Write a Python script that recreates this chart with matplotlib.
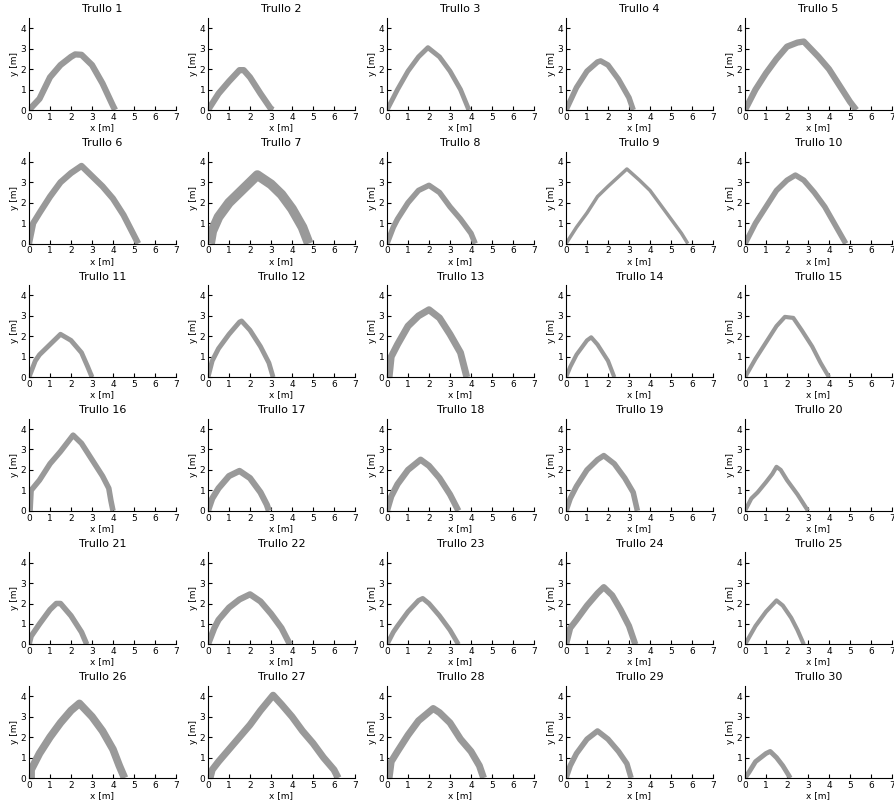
import numpy as np
import matplotlib
matplotlib.use('Agg')
import matplotlib.pyplot as plt

# profile points for every trullo (x, y in metres)
x1 = [0, 0.5, 1, 1.5, 2, 2.2, 2.5, 3, 3.5, 4, 4.1]
y1 = [0, 0.55, 1.6, 2.2, 2.6, 2.72, 2.7, 2.2, 1.3, 0.2, 0]
x2 = [0, 0.5, 1, 1.5, 1.7, 2, 2.5, 3, 3.1]
y2 = [0, 0.8, 1.4, 1.95, 1.95, 1.6, 0.8, 0.05, 0]
x3 = [0, 0.5, 1, 1.5, 1.95, 2.5, 3, 3.5, 3.9]
y3 = [0, 1.0, 1.9, 2.6, 3.05, 2.6, 1.9, 1.0, 0]
x4 = [0, 0.5, 1, 1.5, 1.65, 2, 2.5, 3, 3.2]
y4 = [0, 1.1, 1.9, 2.35, 2.4, 2.2, 1.5, 0.6, 0]
x5 = [0, 0.5, 1, 1.5, 2, 2.5, 2.8, 3.5, 4, 4.5, 5, 5.3]
y5 = [0, 1.0, 1.8, 2.5, 3.1, 3.3, 3.35, 2.6, 2.0, 1.2, 0.4, 0]
x6 = [0, 0.2, 0.5, 1, 1.5, 2, 2.5, 3, 3.5, 4, 4.5, 4.9, 5.2]
y6 = [0, 1.0, 1.5, 2.3, 3.0, 3.45, 3.8, 3.3, 2.8, 2.2, 1.4, 0.6, 0]
x7 = [0.1, 0.2, 0.5, 1, 1.5, 2, 2.35, 3, 3.5, 4, 4.5, 4.8]
y7 = [0, 0.6, 1.3, 2.0, 2.5, 3.0, 3.35, 2.9, 2.4, 1.7, 0.8, 0]
x8 = [0, 0.3, 0.5, 1, 1.5, 2, 2.5, 3, 3.5, 4, 4.2]
y8 = [0, 0.8, 1.2, 2.0, 2.6, 2.85, 2.5, 1.8, 1.2, 0.5, 0]
x9 = [0, 0.5, 1, 1.5, 2, 2.9, 3.5, 4, 4.5, 5, 5.5, 5.8]
y9 = [0, 0.8, 1.5, 2.3, 2.8, 3.65, 3.1, 2.6, 1.9, 1.2, 0.5, 0]
x10 = [0, 0.5, 1, 1.5, 2, 2.4, 2.8, 3.3, 3.8, 4.3, 4.8]
y10 = [0, 1.0, 1.8, 2.6, 3.1, 3.35, 3.1, 2.5, 1.8, 0.9, 0]
x11 = [0, 0.3, 0.5, 1, 1.5, 2, 2.5, 2.8, 3.0]
y11 = [0, 0.8, 1.1, 1.6, 2.1, 1.8, 1.2, 0.5, 0]
x12 = [0, 0.2, 0.5, 1, 1.5, 1.6, 2, 2.5, 2.9, 3.1]
y12 = [0, 0.8, 1.4, 2.1, 2.7, 2.75, 2.3, 1.5, 0.7, 0]
x13 = [0.1, 0.2, 0.5, 1, 1.5, 2, 2.5, 3, 3.5, 3.8]
y13 = [0, 1.0, 1.6, 2.5, 3.0, 3.3, 2.9, 2.1, 1.2, 0]
x14 = [0, 0.2, 0.5, 1, 1.2, 1.5, 2, 2.3]
y14 = [0, 0.5, 1.1, 1.8, 1.95, 1.6, 0.8, 0]
x15 = [0, 0.5, 1, 1.5, 1.9, 2.3, 2.7, 3.2, 3.6, 4.0]
y15 = [0, 0.9, 1.7, 2.5, 2.95, 2.9, 2.3, 1.5, 0.7, 0]
x16 = [0.05, 0.1, 0.5, 1, 1.5, 2.1, 2.5, 3, 3.5, 3.8, 3.9, 4.0]
y16 = [0, 1.0, 1.5, 2.3, 2.9, 3.7, 3.3, 2.5, 1.7, 1.1, 0.5, 0]
x17 = [0, 0.2, 0.5, 1, 1.5, 2, 2.5, 2.8, 2.9]
y17 = [0, 0.6, 1.1, 1.7, 1.95, 1.6, 0.9, 0.3, 0]
x18 = [0, 0.2, 0.5, 1, 1.6, 2, 2.5, 3, 3.4]
y18 = [0, 0.7, 1.3, 2.0, 2.5, 2.2, 1.6, 0.8, 0]
x19 = [0, 0.2, 0.5, 1, 1.5, 1.8, 2.3, 2.8, 3.2, 3.4]
y19 = [0, 0.6, 1.2, 2.0, 2.5, 2.7, 2.3, 1.6, 0.9, 0]
x20 = [0, 0.3, 0.6, 1, 1.3, 1.5, 1.7, 2, 2.5, 3.0]
y20 = [0, 0.6, 0.9, 1.4, 1.8, 2.15, 2.0, 1.5, 0.8, 0]
x21 = [0, 0.1, 0.5, 1, 1.3, 1.5, 2, 2.5, 2.75]
y21 = [0, 0.4, 1.0, 1.7, 2.0, 2.0, 1.4, 0.6, 0]
x22 = [0, 0.3, 0.5, 1, 1.5, 2, 2.5, 3, 3.5, 3.9]
y22 = [0, 0.8, 1.2, 1.8, 2.2, 2.45, 2.1, 1.5, 0.8, 0]
x23 = [0, 0.3, 0.5, 1, 1.5, 1.7, 2, 2.5, 3, 3.4]
y23 = [0, 0.6, 0.9, 1.6, 2.15, 2.25, 2.0, 1.4, 0.7, 0]
x24 = [0, 0.2, 0.5, 1, 1.5, 1.8, 2.2, 2.6, 3, 3.3]
y24 = [0, 0.8, 1.2, 1.9, 2.5, 2.8, 2.4, 1.7, 0.9, 0]
x25 = [0, 0.5, 1, 1.5, 1.8, 2.2, 2.5, 2.8]
y25 = [0, 0.9, 1.6, 2.15, 1.9, 1.3, 0.7, 0]
x26 = [0.1, 0.1, 0.5, 1, 1.5, 2, 2.4, 3, 3.5, 4, 4.3, 4.55]
y26 = [0, 0.4, 1.2, 2.0, 2.7, 3.3, 3.65, 3.0, 2.3, 1.4, 0.6, 0]
x27 = [0.1, 0.2, 0.5, 1, 1.5, 2, 2.5, 3.1, 3.5, 4, 4.5, 5, 5.5, 6, 6.2]
y27 = [0, 0.4, 0.8, 1.4, 2.0, 2.6, 3.3, 4.05, 3.6, 3.0, 2.3, 1.7, 1.0, 0.4, 0]
x28 = [0.1, 0.2, 0.5, 1, 1.5, 2.2, 2.5, 3, 3.5, 4, 4.4, 4.6]
y28 = [0, 0.8, 1.3, 2.1, 2.8, 3.4, 3.2, 2.7, 1.9, 1.3, 0.6, 0]
x29 = [0, 0.2, 0.5, 1, 1.5, 2, 2.5, 2.9, 3.1]
y29 = [0, 0.6, 1.2, 1.9, 2.3, 1.9, 1.3, 0.7, 0]
x30 = [0, 0.2, 0.5, 1, 1.2, 1.5, 1.8, 2.1, 2.15]
y30 = [0, 0.3, 0.8, 1.2, 1.3, 1.0, 0.6, 0.1, 0]

xs = [x1, x2, x3, x4, x5, x6, x7, x8, x9, x10, x11, x12, x13, x14, x15,
      x16, x17, x18, x19, x20, x21, x22, x23, x24, x25, x26, x27, x28, x29, x30]
ys = [y1, y2, y3, y4, y5, y6, y7, y8, y9, y10, y11, y12, y13, y14, y15,
      y16, y17, y18, y19, y20, y21, y22, y23, y24, y25, y26, y27, y28, y29, y30]
# apparent wall thickness of each profile (line width in points)
widths = [4.5, 4.5, 3.5, 4, 4.5, 4.5, 7, 4, 2.5, 4, 3.5, 3.5, 5, 3, 3,
          4, 4.5, 4.5, 4, 3, 4, 4.5, 3.5, 4.5, 3, 5.5, 5, 5, 4, 3.5]

fig = plt.figure(figsize=(8.95, 8.07), dpi=100)
W, H = 895, 807

for i in range(30):
    r, c = divmod(i, 5)
    left = 29 + c * 179
    bottom = 110 + r * 133.6
    ax = fig.add_axes([left / W, 1 - bottom / H, 147 / W, 92 / H])
    ax.plot(xs[i], ys[i], color='#999999', linewidth=widths[i],
            solid_joinstyle='round', solid_capstyle='butt')
    ax.set_xlim(0, 7)
    ax.set_ylim(0, 4.5)
    ax.set_xticks(range(8))
    ax.set_yticks(range(5))
    ax.spines['top'].set_visible(False)
    ax.spines['right'].set_visible(False)
    ax.tick_params(direction='in', length=3, labelsize=6.5, pad=2)
    ax.set_title('Trullo %d' % (i + 1), fontsize=8, pad=4)
    ax.set_xlabel('x [m]', fontsize=6.5, labelpad=1)
    ax.set_ylabel('y [m]', fontsize=6.5, labelpad=1)

plt.savefig('out.png', dpi=100)
